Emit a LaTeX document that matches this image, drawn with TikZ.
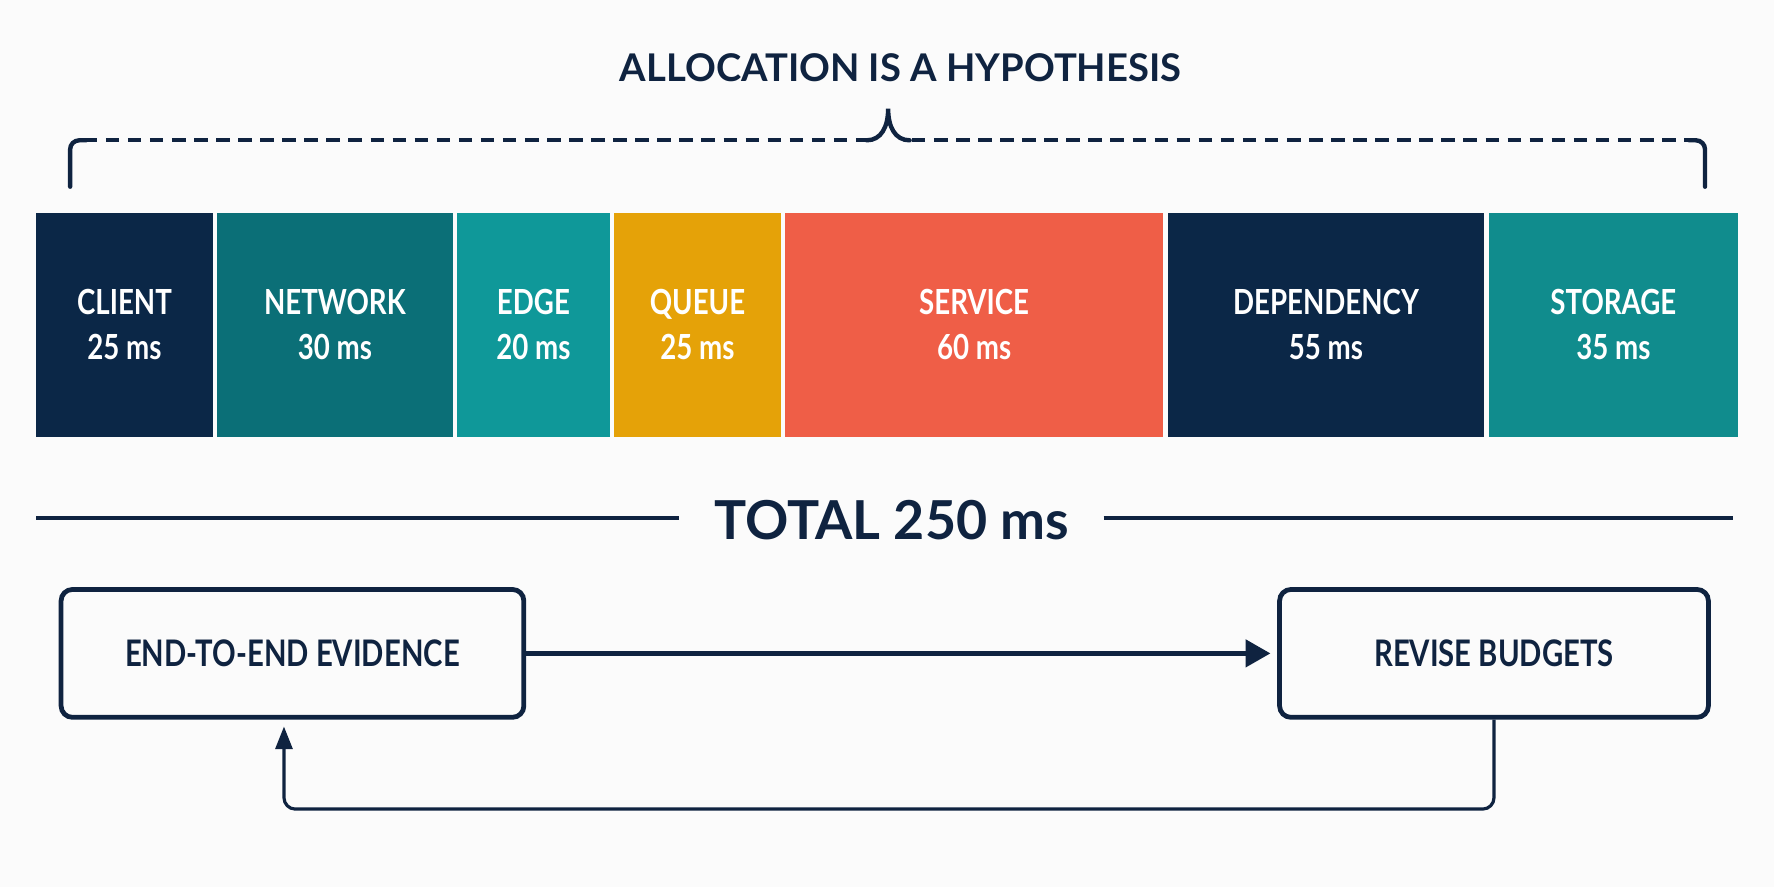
\documentclass[tikz,border=0pt]{standalone}
\usepackage{fontspec}
\setmainfont{Lato}
\newfontfamily\condfont[FakeStretch=0.8]{Lato}
\usepackage{xcolor}
\usepackage{tikz}
\usetikzlibrary{arrows.meta, positioning}
\definecolor{navy}{HTML}{0B2747}
\definecolor{ink}{HTML}{0F2340}
\definecolor{tealdark}{HTML}{0B6F77}
\definecolor{tealmid}{HTML}{0F9899}
\definecolor{tealstore}{HTML}{108C8D}
\definecolor{amber}{HTML}{E5A208}
\definecolor{coral}{HTML}{EF5E47}
\definecolor{paper}{HTML}{FBFBFB}

\begin{document}
\begin{tikzpicture}[x=1mm, y=-1mm,
  seg/.style={rectangle, minimum height=19.8mm, inner sep=0pt, align=center, text=white,
    font=\condfont\bfseries\fontsize{8.7}{11.4}\selectfont},
  stepbox/.style={draw=ink, line width=1.2pt, rounded corners=1mm, minimum height=11.3mm, inner sep=0pt,
    text=ink, font=\condfont\bfseries\fontsize{9.2}{11}\selectfont},
  bracket/.style={draw=ink, line width=1.1pt, line cap=round}]
\fill[paper] (0,0) rectangle (156.8,78.4);
\useasboundingbox (0,0) rectangle (156.8,78.4);
% title and dashed brace
\node[text=ink, font=\bfseries\fontsize{9.6}{12}\selectfont] (title) at (79.6,6.0) {ALLOCATION IS A HYPOTHESIS};
\draw[bracket, rounded corners=0.8mm] (6.2,16.5) -- (6.2,12.4) -- (7.6,12.4);
\draw[bracket, dash pattern=on 1.2mm off 0.75mm, line cap=butt] (7.4,12.4) -- (76.7,12.4);
\draw[bracket] (76.6,12.4) .. controls (77.9,12.4) and (78.5,11.2) .. (78.5,9.6)
  .. controls (78.5,11.2) and (79.1,12.4) .. (80.4,12.4);
\draw[bracket, dash pattern=on 1.2mm off 0.75mm, line cap=butt] (80.6,12.4) -- (149.5,12.4);
\draw[bracket, rounded corners=0.8mm] (149.3,12.4) -- (150.7,12.4) -- (150.7,16.5);
% budget bar
\node[seg, fill=navy, minimum width=15.6mm] (client) at (11.0,28.7) {CLIENT\\25 ms};
\node[seg, fill=tealdark, minimum width=20.8mm] (network) at (29.6,28.7) {NETWORK\\30 ms};
\node[seg, fill=tealmid, minimum width=13.5mm] (edge) at (47.15,28.7) {EDGE\\20 ms};
\node[seg, fill=amber, minimum width=14.7mm] (queue) at (61.65,28.7) {QUEUE\\25 ms};
\node[seg, fill=coral, minimum width=33.4mm] (service) at (86.1,28.7) {SERVICE\\60 ms};
\node[seg, fill=navy, minimum width=28.0mm] (dependency) at (117.2,28.7) {DEPENDENCY\\55 ms};
\node[seg, fill=tealstore, minimum width=22.0mm] (storage) at (142.6,28.7) {STORAGE\\35 ms};
% total
\node[text=ink, inner xsep=3mm, font=\bfseries\fontsize{13.5}{16}\selectfont] (total) at (78.8,46.0) {TOTAL 250 ms};
\coordinate (tl) at (3.2,45.8);
\coordinate (tr) at (153.2,45.8);
\draw[ink, line width=1pt] (tl) -- (tl -| total.west);
\draw[ink, line width=1pt] (tr -| total.east) -- (tr);
% feedback loop
\node[stepbox, minimum width=40.9mm] (evidence) at (25.85,57.75) {END-TO-END EVIDENCE};
\node[stepbox, minimum width=37.9mm] (revise) at (132.05,57.75) {REVISE BUDGETS};
\draw[ink, line width=1.1pt, -{Triangle[length=2.2mm, width=2.4mm]}, shorten >=0.6mm] (evidence) -- (revise);
\draw[ink, line width=0.8pt, rounded corners=1mm, -{Triangle[length=2.0mm, width=1.5mm]}, shorten >=0.6mm]
  (revise.south) -- ++(0,7.9) -| ([xshift=-0.75mm]evidence.south);
\end{tikzpicture}
\end{document}
